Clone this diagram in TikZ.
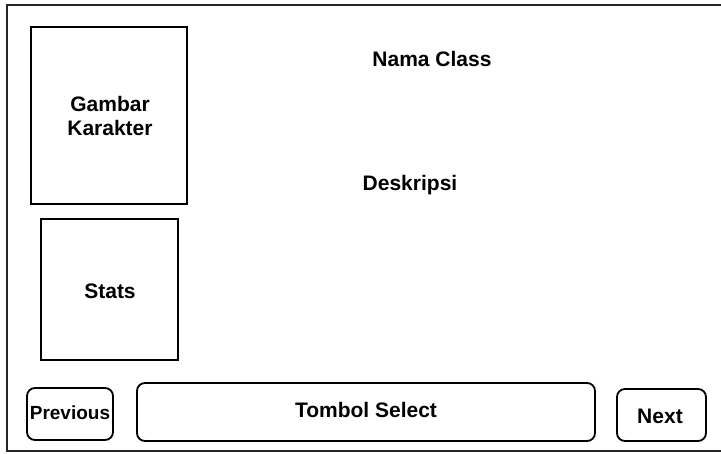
\documentclass[tikz,border=0pt]{standalone}
\usepackage{fontspec}
\setmainfont{Liberation Sans}
\begin{document}
\begin{tikzpicture}[x=1pt,y=-1pt,
  box/.style={draw=black,line width=1.8pt,fill=white},
  btn/.style={draw=black,line width=1.8pt,rounded corners=8pt,fill=white},
  lbl/.style={font=\fontsize{21}{24}\selectfont\bfseries,align=center,inner sep=0pt}]
\useasboundingbox (0,0) rectangle (721,454);
\begin{scope}
\clip (0,0) rectangle (721,454);
\draw[line width=2pt,draw=black!85] (7,5.5) rectangle (730,451.5);
\end{scope}
\node[box,minimum width=156pt,minimum height=177pt,inner sep=0pt] (img) at (109,115.5) {};
\node[lbl] (imgt) at (110,116) {Gambar\\Karakter};
\node[box,minimum width=137pt,minimum height=141pt,inner sep=0pt] (stats) at (109.5,289.5) {};
\node[lbl] (statst) at (110,291) {Stats};
\node[lbl] (nama) at (432,59) {Nama Class};
\node[lbl] (desk) at (410,185) {Deskripsi};
\node[btn,minimum width=86pt,minimum height=52pt,inner sep=0pt] (prev) at (70,414) {};
\node[lbl,font=\fontsize{19}{22}\selectfont\bfseries] (prevt) at (70,413) {Previous};
\node[btn,minimum width=458pt,minimum height=58pt,inner sep=0pt] (sel) at (366,412) {};
\node[lbl] (selt) at (366,410) {Tombol Select};
\node[btn,minimum width=89pt,minimum height=52pt,inner sep=0pt] (next) at (661.5,415) {};
\node[lbl] (nextt) at (660,416) {Next};
\end{tikzpicture}
\end{document}
